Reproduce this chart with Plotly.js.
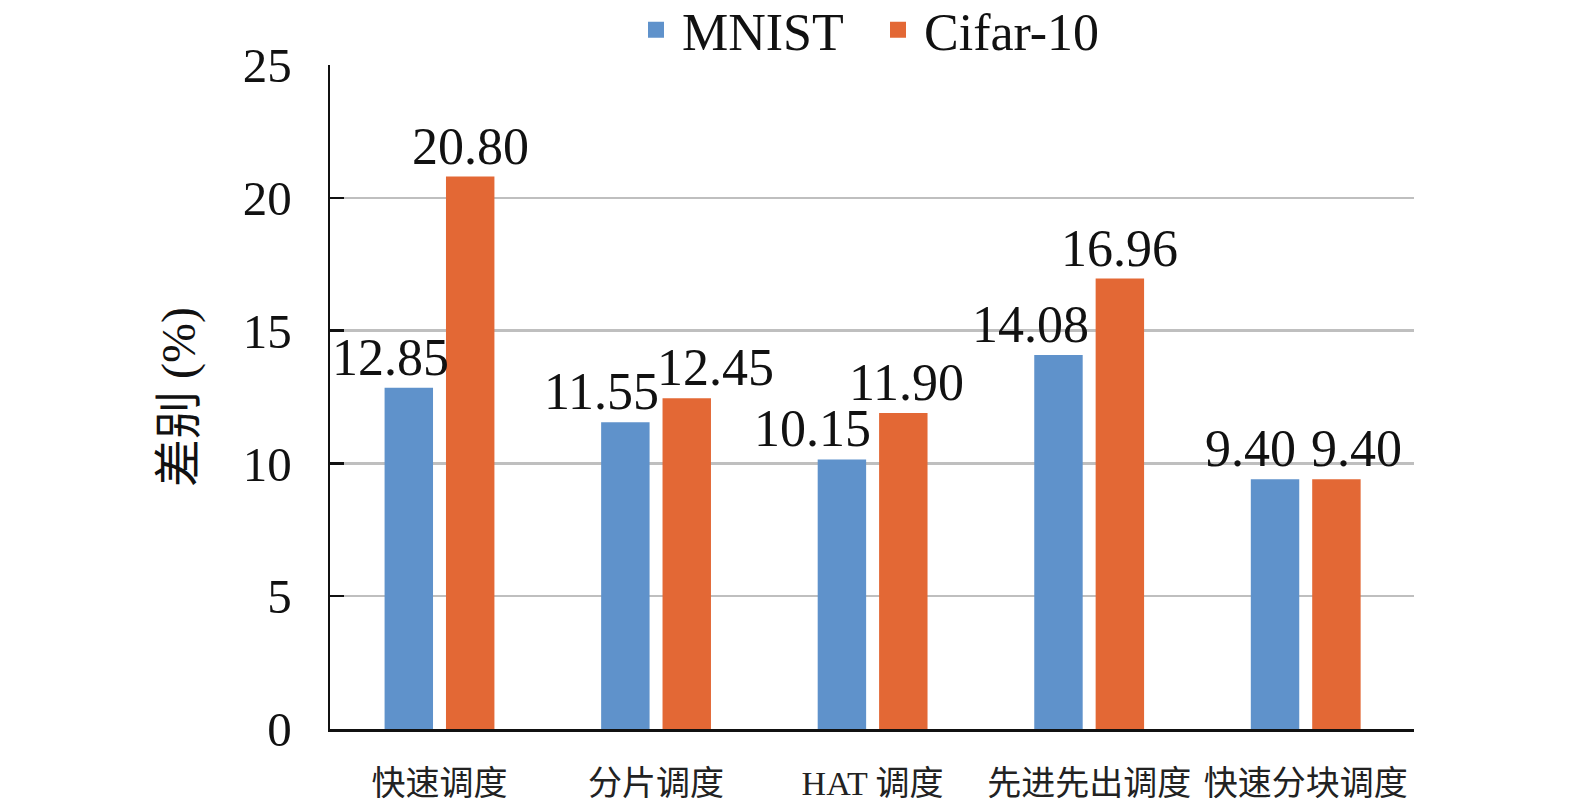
<!DOCTYPE html>
<html>
<head>
<meta charset="utf-8">
<script src="https://cdn.plot.ly/plotly-3.0.1.min.js"></script>
<style>html,body{margin:0;padding:0;background:#fff;overflow:hidden;width:1575px;height:811px;}#chart{width:1575px;height:811px;}</style>
</head>
<body>
<div id="chart"></div>
<script>
const categories = ['快速调度', '分片调度', 'HAT 调度', '先进先出调度', '快速分块调度'];
const mnistValues = [12.85, 11.55, 10.15, 14.08, 9.40];
const cifarValues = [20.80, 12.45, 11.90, 16.96, 9.40];
const mnistLabels = ['12.85', '11.55', '10.15', '14.08', '9.40'];
const cifarLabels = ['20.80', '12.45', '11.90', '16.96', '9.40'];
const seriesNames = ['MNIST', 'Cifar-10'];
const yTickValues = [0, 5, 10, 15, 20, 25];

// styling: label horizontal offsets (px) relative to the category centre, as placed in the reference
const mnistLabelShift = [-49, -55, -60, -59, -55];
const cifarLabelShift = [31, 59, 34, 30, 51];

const serif = 'Liberation Serif, Times New Roman, Noto Sans CJK SC, serif';
const blue = '#5F92CB';
const orange = '#E36835';

const traces = [
  {type: 'bar', name: seriesNames[0], x: categories, y: mnistValues, marker: {color: blue}, hoverinfo: 'skip', showlegend: false},
  {type: 'bar', name: seriesNames[1], x: categories, y: cifarValues, marker: {color: orange}, hoverinfo: 'skip', showlegend: false},
  // legend keys (square swatches)
  {type: 'scatter', mode: 'markers', name: seriesNames[0], x: [null], y: [null],
    marker: {symbol: 'square', size: 17, color: blue}, hoverinfo: 'skip', showlegend: true},
  {type: 'scatter', mode: 'markers', name: seriesNames[1], x: [null], y: [null],
    marker: {symbol: 'square', size: 17, color: orange}, hoverinfo: 'skip', showlegend: true}
];

const annotations = [];
categories.forEach((c, i) => {
  annotations.push({x: c, y: mnistValues[i], xref: 'x', yref: 'y', text: mnistLabels[i], showarrow: false,
    xanchor: 'center', yanchor: 'bottom', xshift: mnistLabelShift[i], yshift: 0,
    font: {family: serif, size: 52, color: '#111'}});
  annotations.push({x: c, y: cifarValues[i], xref: 'x', yref: 'y', text: cifarLabels[i], showarrow: false,
    xanchor: 'center', yanchor: 'bottom', xshift: cifarLabelShift[i], yshift: 0,
    font: {family: serif, size: 52, color: '#111'}});
});

const layout = {
  width: 1575, height: 811,
  margin: {l: 330, r: 161, t: 65, b: 82, autoexpand: false},
  paper_bgcolor: '#fff', plot_bgcolor: '#fff',
  barmode: 'group', bargap: 0.433, bargroupgap: 0.211,
  showlegend: true,
  legend: {orientation: 'h', x: 0.5, xref: 'paper', xanchor: 'center', y: 1.0527, yref: 'paper', yanchor: 'middle',
    font: {family: serif, size: 52, color: '#111'}, itemwidth: 42, entrywidth: 185, entrywidthmode: 'pixels',
    bgcolor: 'rgba(0,0,0,0)'},
  xaxis: {
    type: 'category', showline: true, linecolor: '#111', linewidth: 2.5, ticks: '',
    tickfont: {family: serif, size: 34, color: '#222'}, ticklabelstandoff: 23,
    showgrid: false, zeroline: false, fixedrange: true, automargin: false
  },
  yaxis: {
    range: [0, 25], tickvals: yTickValues, ticktext: yTickValues.map(String),
    showline: true, linecolor: '#111', linewidth: 2.5,
    ticks: 'inside', ticklen: 14, tickwidth: 2.5, tickcolor: '#111',
    showgrid: true, gridcolor: '#BFBFBF', gridwidth: 2.5, zeroline: false,
    tickfont: {family: serif, size: 49, color: '#111'}, ticklabelstandoff: 26,
    title: {text: '差别 (%)', font: {family: serif, size: 48, color: '#111'}, standoff: 32},
    automargin: false, fixedrange: true
  },
  annotations: annotations
};

Plotly.newPlot('chart', traces, layout, {displayModeBar: false, staticPlot: true});
</script>
</body>
</html>
